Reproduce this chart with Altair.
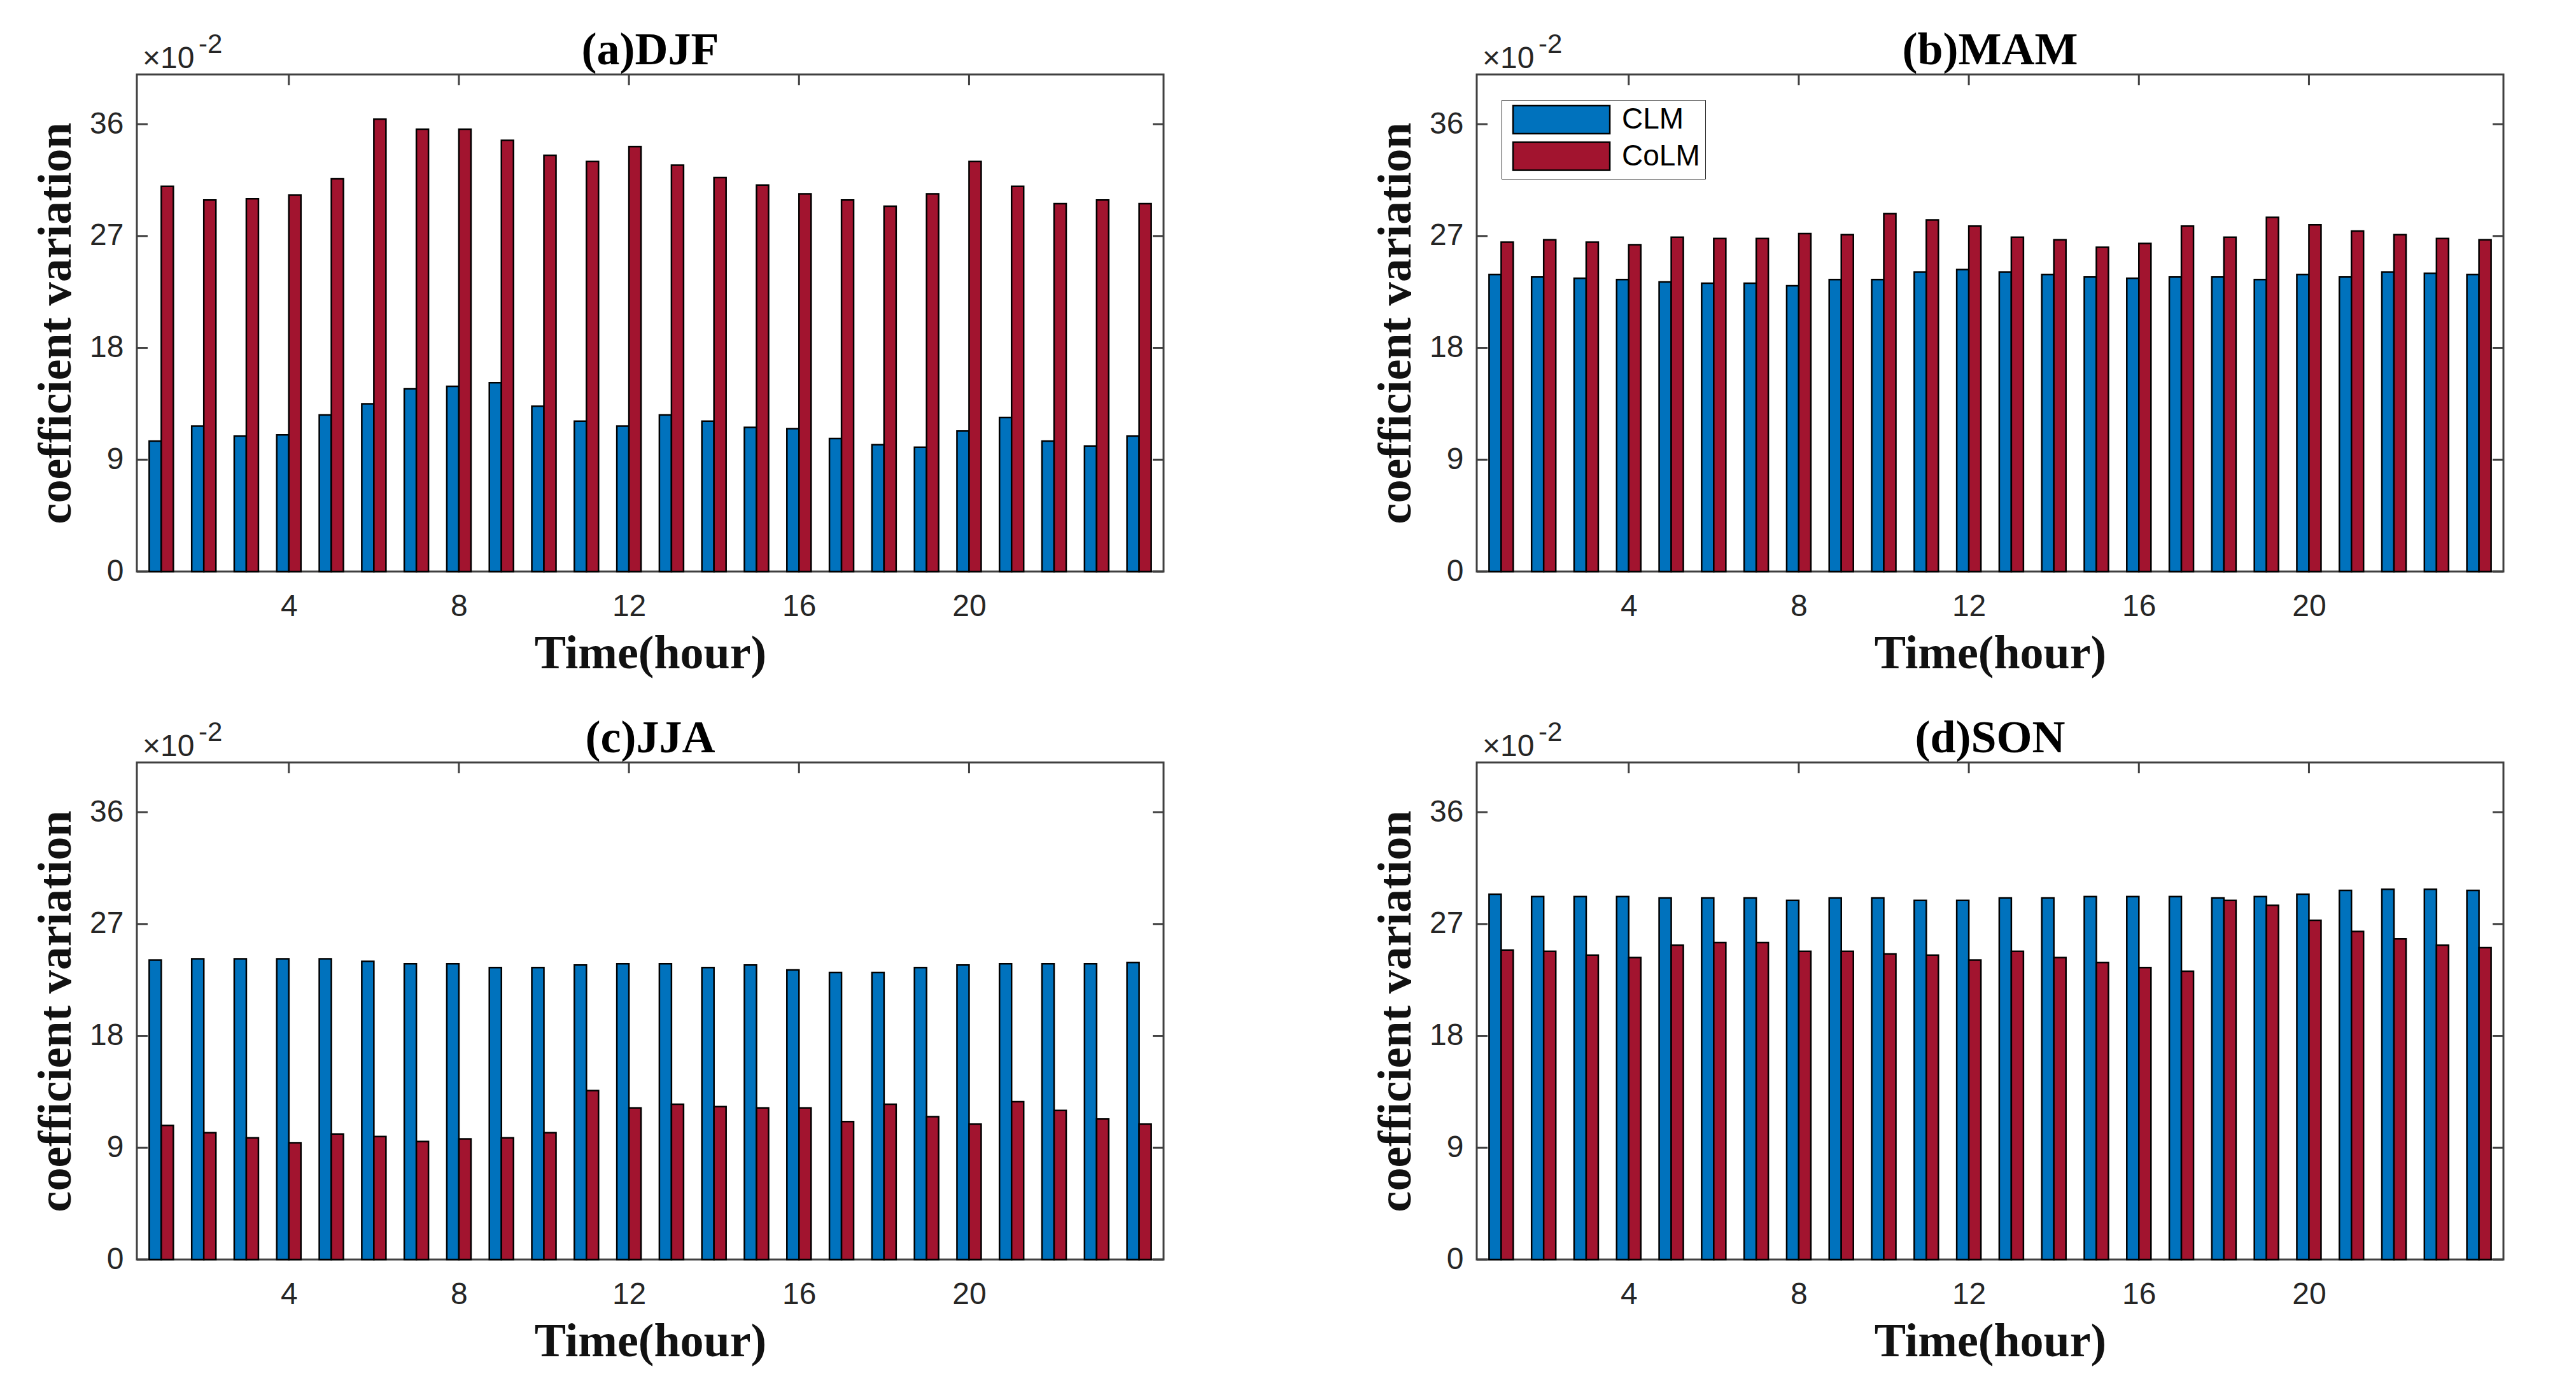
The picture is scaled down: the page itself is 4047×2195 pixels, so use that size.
import altair as alt
import pandas as pd

hours = list(range(1, 25))
models = ["CLM", "CoLM"]
colors = ["#0072BD", "#A2142F"]
x_ticks = [4, 8, 12, 16, 20]
y_ticks = [0, 9, 18, 27, 36]

titles = ["(a)DJF", "(b)MAM", "(c)JJA", "(d)SON"]

djf_clm = [10.5, 11.7, 10.9, 11.0, 12.6, 13.5, 14.7, 14.9, 15.2, 13.3, 12.1, 11.7,
           12.6, 12.1, 11.6, 11.5, 10.7, 10.2, 10.0, 11.3, 12.4, 10.5, 10.1, 10.9]
djf_colm = [31.0, 29.9, 30.0, 30.3, 31.6, 36.4, 35.6, 35.6, 34.7, 33.5, 33.0, 34.2,
            32.7, 31.7, 31.1, 30.4, 29.9, 29.4, 30.4, 33.0, 31.0, 29.6, 29.9, 29.6]
mam_clm = [23.9, 23.7, 23.6, 23.5, 23.3, 23.2, 23.2, 23.0, 23.5, 23.5, 24.1, 24.3,
           24.1, 23.9, 23.7, 23.6, 23.7, 23.7, 23.5, 23.9, 23.7, 24.1, 24.0, 23.9]
mam_colm = [26.5, 26.7, 26.5, 26.3, 26.9, 26.8, 26.8, 27.2, 27.1, 28.8, 28.3, 27.8,
            26.9, 26.7, 26.1, 26.4, 27.8, 26.9, 28.5, 27.9, 27.4, 27.1, 26.8, 26.7]
jja_clm = [24.1, 24.2, 24.2, 24.2, 24.2, 24.0, 23.8, 23.8, 23.5, 23.5, 23.7, 23.8,
           23.8, 23.5, 23.7, 23.3, 23.1, 23.1, 23.5, 23.7, 23.8, 23.8, 23.8, 23.9]
jja_colm = [10.8, 10.2, 9.8, 9.4, 10.1, 9.9, 9.5, 9.7, 9.8, 10.2, 13.6, 12.2,
            12.5, 12.3, 12.2, 12.2, 11.1, 12.5, 11.5, 10.9, 12.7, 12.0, 11.3, 10.9]
son_clm = [29.4, 29.2, 29.2, 29.2, 29.1, 29.1, 29.1, 28.9, 29.1, 29.1, 28.9, 28.9,
           29.1, 29.1, 29.2, 29.2, 29.2, 29.1, 29.2, 29.4, 29.7, 29.8, 29.8, 29.7]
son_colm = [24.9, 24.8, 24.5, 24.3, 25.3, 25.5, 25.5, 24.8, 24.8, 24.6, 24.5, 24.1,
            24.8, 24.3, 23.9, 23.5, 23.2, 28.9, 28.5, 27.3, 26.4, 25.8, 25.3, 25.1]

W, H = 1613, 781
TICK = 17
AX = "#404040"
SANS = "Liberation Sans"
SERIF = "Liberation Serif"

xscale = alt.Scale(domain=[0.5, 24.5], nice=False, zero=False)
yscale = alt.Scale(domain=[0, 40], nice=False, zero=False)

x_axis = alt.Axis(values=x_ticks, title="Time(hour)", tickSize=0,
                  domain=False, grid=False, labelFont=SANS,
                  labelFontSize=48, labelColor="#262626",
                  labelPadding=31, titleFont=SERIF,
                  titleFontWeight="bold", titleFontSize=74,
                  titleColor="#111111", titlePadding=14)
y_axis = alt.Axis(values=y_ticks, title="coefficient variation",
                  tickSize=0, domain=False, grid=False,
                  labelFont=SANS, labelFontSize=48,
                  labelColor="#262626", labelPadding=21,
                  titleFont=SERIF, titleFontWeight="bold",
                  titleFontSize=74, titleColor="#111111",
                  titlePadding=14)


def panel(title, clm, colm, show_legend):
    df = pd.DataFrame({
        "hour": hours * 2,
        "model": [models[0]] * 24 + [models[1]] * 24,
        "value": clm + colm,
    })
    xt = pd.DataFrame({"v": x_ticks})
    yt = pd.DataFrame({"v": y_ticks})

    x_enc = alt.X("hour:Q", scale=xscale, axis=x_axis)
    y_enc = alt.Y("value:Q", scale=yscale, axis=y_axis)
    if show_legend:
        legend = alt.Legend(
            title=None, orient="none", legendX=39, legendY=40,
            strokeColor="#262626", fillColor="white", padding=8,
            symbolType="M-0.68,-1.16L7.32,-1.16L7.32,1.16L-0.68,1.16Z", symbolSize=1444,
            symbolStrokeColor="black", symbolStrokeWidth=2.5, symbolOpacity=1,
            labelFont=SANS, labelFontSize=46, labelColor="black",
            labelOffset=135, rowPadding=1.5,
        )
    else:
        legend = None
    color = alt.Color("model:N", scale=alt.Scale(domain=models, range=colors),
                      legend=legend)

    base = alt.Chart(df)
    bars_clm = base.transform_filter(alt.datum.model == models[0]).mark_bar(
        width=19, xOffset=-9.5, stroke="black", strokeWidth=2.5, opacity=1
    ).encode(x=x_enc, y=y_enc, color=color)
    bars_colm = base.transform_filter(alt.datum.model == models[1]).mark_bar(
        width=19, xOffset=9.5, stroke="black", strokeWidth=2.5, opacity=1
    ).encode(x=x_enc, y=y_enc, color=color)

    rule = dict(color=AX, strokeWidth=3)
    yl = alt.Chart(yt).mark_rule(**rule).encode(
        y=alt.Y("v:Q", scale=yscale, axis=y_axis), x=alt.value(0), x2=alt.value(TICK))
    yr = alt.Chart(yt).mark_rule(**rule).encode(
        y=alt.Y("v:Q", scale=yscale, axis=y_axis), x=alt.value(W - TICK), x2=alt.value(W))
    xb = alt.Chart(xt).mark_rule(**rule).encode(
        x=alt.X("v:Q", scale=xscale, axis=x_axis), y=alt.value(H), y2=alt.value(H - TICK))
    xtp = alt.Chart(xt).mark_rule(**rule).encode(
        x=alt.X("v:Q", scale=xscale, axis=x_axis), y=alt.value(0), y2=alt.value(TICK))

    exp_base = alt.Chart(pd.DataFrame({"t": ["×10"]})).mark_text(
        font=SANS, fontSize=48, align="left", baseline="alphabetic", color="#262626"
    ).encode(text="t:N", x=alt.value(9), y=alt.value(-10))
    exp_pow = alt.Chart(pd.DataFrame({"t": ["-2"]})).mark_text(
        font=SANS, fontSize=42, align="left", baseline="alphabetic", color="#262626"
    ).encode(text="t:N", x=alt.value(97), y=alt.value(-34))
    ttl = alt.Chart(pd.DataFrame({"t": [title]})).mark_text(
        font=SERIF, fontSize=72, fontWeight="bold", align="center",
        baseline="alphabetic", color="black"
    ).encode(text="t:N", x=alt.value(W / 2), y=alt.value(-16))

    return alt.layer(xb, yl, yr, xtp, bars_clm, bars_colm, exp_base, exp_pow, ttl).properties(
        width=W, height=H,
    )


pa = panel(titles[0], djf_clm, djf_colm, False)
pb = panel(titles[1], mam_clm, mam_colm, True)
pc = panel(titles[2], jja_clm, jja_colm, False)
pdn = panel(titles[3], son_clm, son_colm, False)

chart = alt.concat(
    pa, pb, pc, pdn, columns=2, spacing={"row": 300, "column": 492}, bounds="flush"
).resolve_scale(color="independent").properties(
    padding={"left": 42, "top": 33, "right": 10, "bottom": 10},
    background="white",
).configure_view(stroke=AX, strokeWidth=3)

chart.save("out.html", embed_options={"renderer": "svg", "actions": False})
